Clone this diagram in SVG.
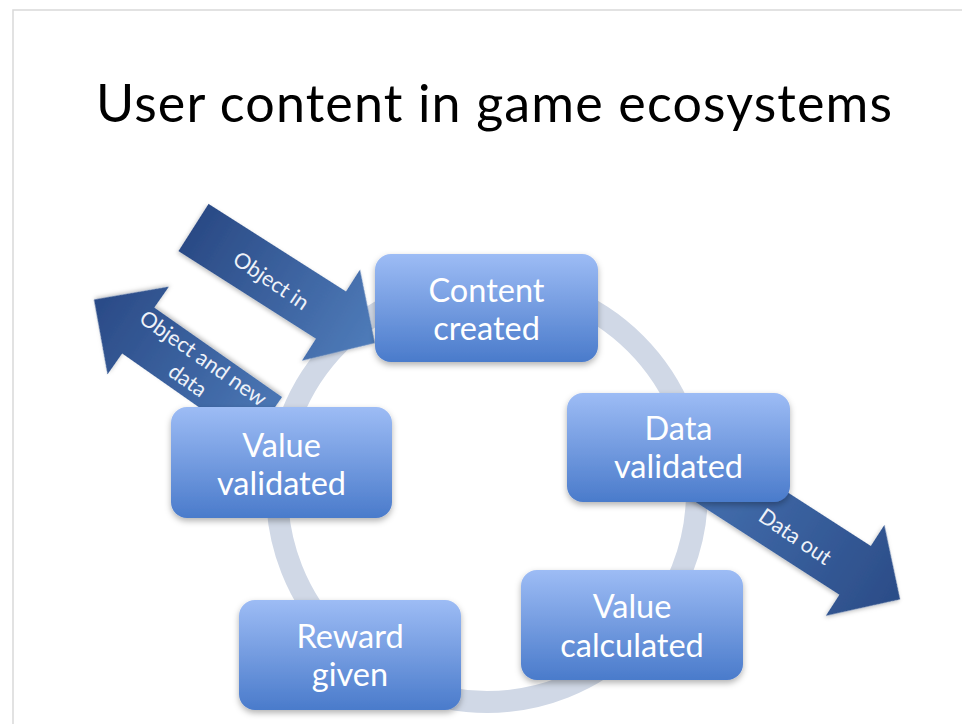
<svg xmlns="http://www.w3.org/2000/svg" width="962" height="724" viewBox="0 0 962 724">
<defs>
<style>
.title{font-family:Lato,"Liberation Sans",sans-serif;font-size:52px;fill:#000}
.box{fill:url(#boxg);filter:url(#sh)}
.bt{font-family:Lato,"Liberation Sans",sans-serif;font-size:32.5px;fill:#fff;text-anchor:middle}
.at{font-family:Lato,"Liberation Sans",sans-serif;font-size:21.5px;fill:#eef2f9;text-anchor:middle}
.ring{fill:none;stroke:#d0d8e6;stroke-width:22}
.frame{stroke:#d9d9d9;stroke-width:1.5;fill:none}
</style>
<linearGradient id="boxg" x1="0" y1="0" x2="0" y2="1">
<stop offset="0" stop-color="#9dbcf5"/>
<stop offset="1" stop-color="#4a7bcb"/>
</linearGradient>
<linearGradient id="gin" x1="0" y1="0" x2="1" y2="0">
<stop offset="0" stop-color="#2a4a85"/>
<stop offset="1" stop-color="#4f7cba"/>
</linearGradient>
<linearGradient id="gback" x1="0" y1="0" x2="1" y2="0">
<stop offset="0" stop-color="#4a76b4"/>
<stop offset="1" stop-color="#2a4a86"/>
</linearGradient>
<linearGradient id="gout" x1="0" y1="0" x2="1" y2="0">
<stop offset="0" stop-color="#4672b2"/>
<stop offset="1" stop-color="#2b4c87"/>
</linearGradient>
<filter id="sh" x="-20%" y="-20%" width="140%" height="150%">
<feDropShadow dx="0" dy="3" stdDeviation="3" flood-color="#000" flood-opacity="0.3"/>
</filter>
<filter id="ash" x="-20%" y="-20%" width="140%" height="150%">
<feDropShadow dx="0" dy="2" stdDeviation="2" flood-color="#000" flood-opacity="0.25"/>
</filter>
</defs>
<rect width="962" height="724" fill="#fff"/>
<path class="frame" d="M13,724 V10 H962"/>
<text class="title" x="96" y="122" textLength="796" lengthAdjust="spacing">User content in game ecosystems</text>

<g id="connectors">
<circle id="ring" class="ring" cx="487" cy="492" r="210"/>
<g id="arrow-object-and-new-data" transform="translate(266,420) rotate(215)">
<polygon points="0,-28 156,-28 156,-53.5 210,0 156,53.5 156,28 0,28" fill="url(#gback)" filter="url(#ash)"/>
</g>
<g id="arrow-object-in" transform="translate(193.5,227.5) rotate(32.5)">
<polygon points="0,-28 163,-28 163,-54 215,0 163,54 163,28 0,28" fill="url(#gin)" filter="url(#ash)"/>
</g>
<g id="arrow-data-out" transform="translate(687,462) rotate(32.8)">
<polygon points="0,-29 200,-29 200,-54 253.5,0 200,54 200,29 0,29" fill="url(#gout)" filter="url(#ash)"/>
</g>
<text class="at" transform="translate(271,281) rotate(34)" y="7">Object in</text>
<g class="at" transform="translate(195,370) rotate(35)">
<text y="-7" class="at">Object and new</text>
<text y="20" class="at">data</text>
</g>
<text class="at" transform="translate(795,537) rotate(34)" y="7">Data out</text>
</g>

<g id="content-created">
<rect class="box" x="375" y="254" width="223" height="108" rx="16"/>
<text class="bt" x="486.5" y="302">Content</text>
<text class="bt" x="486.5" y="340">created</text>
</g>
<g id="data-validated">
<rect class="box" x="567" y="393" width="223" height="109" rx="16"/>
<text class="bt" x="678.5" y="440">Data</text>
<text class="bt" x="678.5" y="478">validated</text>
</g>
<g id="value-calculated">
<rect class="box" x="521" y="570" width="222" height="110" rx="16"/>
<text class="bt" x="632" y="618">Value</text>
<text class="bt" x="632" y="657">calculated</text>
</g>
<g id="reward-given">
<rect class="box" x="239" y="600" width="222" height="110" rx="16"/>
<text class="bt" x="350" y="648">Reward</text>
<text class="bt" x="350" y="686">given</text>
</g>
<g id="value-validated">
<rect class="box" x="171" y="407" width="221" height="111" rx="16"/>
<text class="bt" x="281.5" y="457">Value</text>
<text class="bt" x="281.5" y="495">validated</text>
</g>
</svg>
